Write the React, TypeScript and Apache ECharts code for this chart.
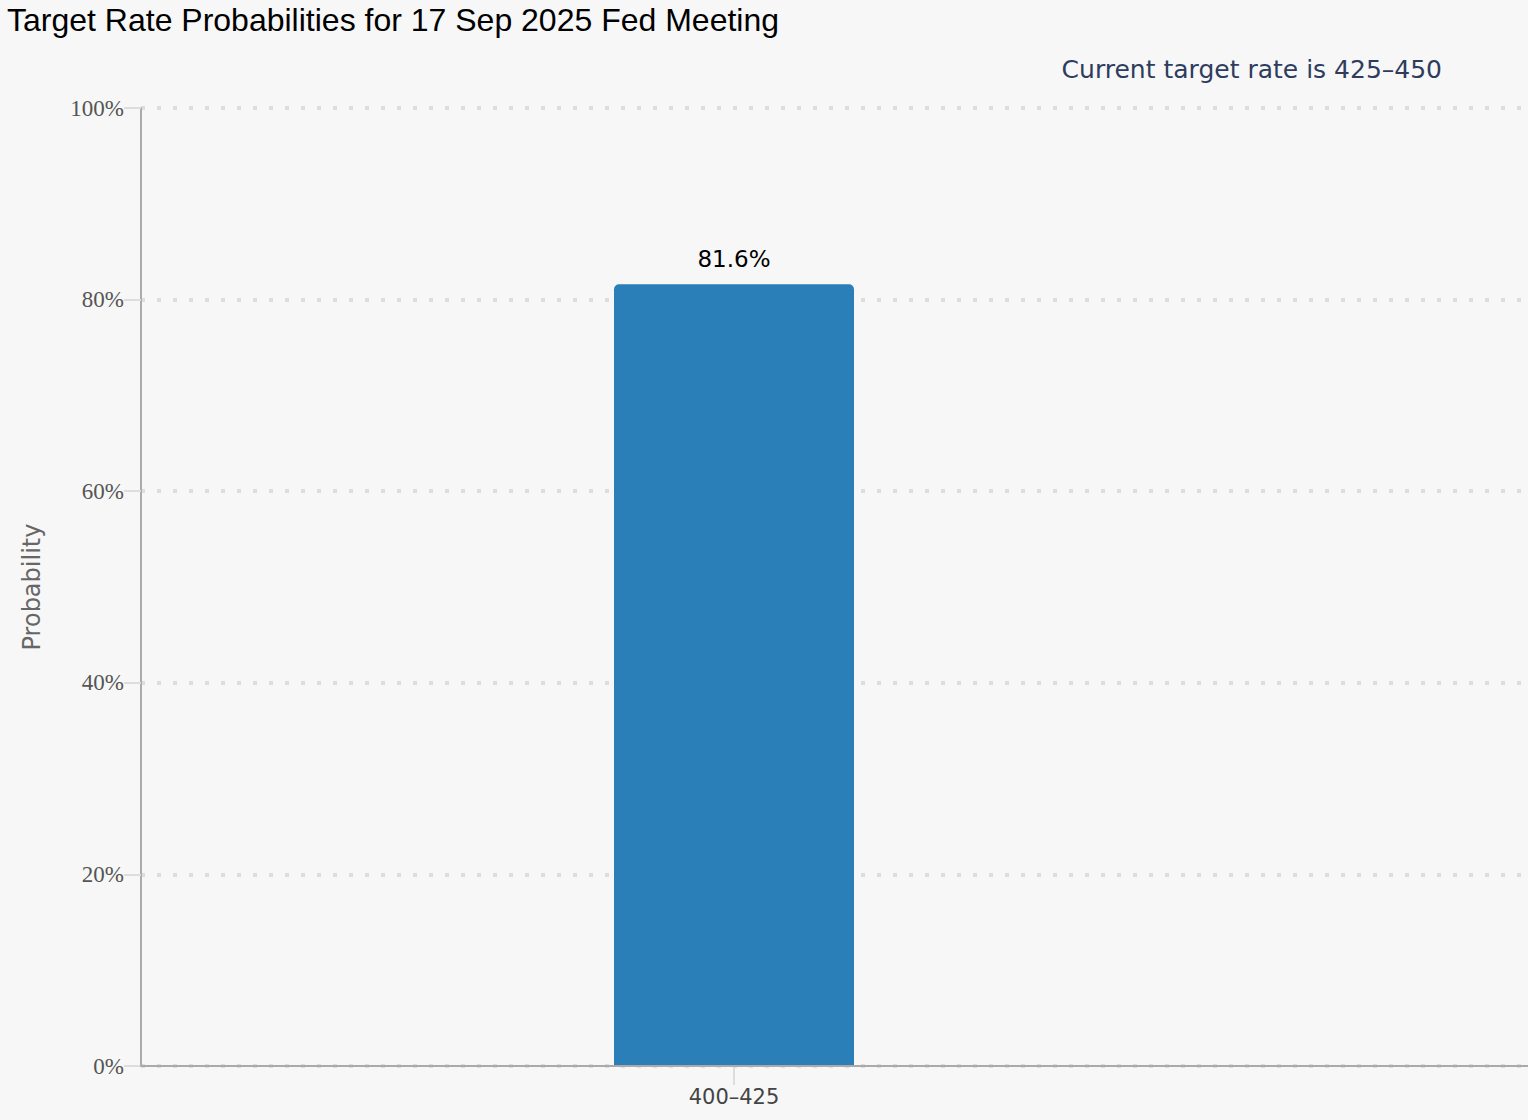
import React, { useEffect, useRef } from "react";
import * as echarts from "echarts";

const categories = ["400–425"];
const probabilities = [81.6];
const yTicks = { min: 0, max: 100, interval: 20 };
const titleText = "Target Rate Probabilities for 17 Sep 2025 Fed Meeting";
const subtitleText = "Current target rate is 425–450";

export default function App() {
  const ref = useRef<HTMLDivElement>(null);
  useEffect(() => {
    if (!ref.current) return;
    const chart = echarts.init(ref.current, undefined, { renderer: "svg" });
    chart.setOption({
      animation: false,
      backgroundColor: "#f7f7f7",
      title: [
        {
          text: titleText,
          left: 7,
          top: 4,
          padding: 0,
          textStyle: { fontFamily: "Liberation Sans", fontSize: 32, fontWeight: "normal", color: "#000" },
        },
        {
          text: subtitleText,
          right: 81,
          top: 52,
          textStyle: { fontFamily: "DejaVu Sans", fontSize: 25, fontWeight: "normal", color: "#2e3c5e" },
        },
      ],
      grid: [
        { left: 141, right: 0, top: 108, bottom: 54 },
        { left: 141, right: 201, top: 108, bottom: 54 },
      ],
      xAxis: [
        {
          gridIndex: 0,
          type: "value",
          min: 0,
          max: 1,
          z: 5,
          axisLine: { show: true, lineStyle: { color: "#aaaaaa", width: 2 } },
          axisTick: { show: false },
          axisLabel: { show: false },
          splitLine: { show: false },
        },
        {
          gridIndex: 1,
          type: "category",
          data: categories,
          axisLine: { show: false },
          axisTick: { show: true, alignWithLabel: true, length: 19, lineStyle: { color: "#dddddd", width: 2 } },
          axisLabel: { margin: 20, fontFamily: "DejaVu Sans", fontSize: 21, color: "#444" },
        },
      ],
      yAxis: [
        {
          gridIndex: 0,
          type: "value",
          min: yTicks.min,
          max: yTicks.max,
          interval: yTicks.interval,
          name: "Probability",
          nameLocation: "middle",
          nameRotate: 90,
          nameGap: 97,
          nameTextStyle: { fontFamily: "DejaVu Sans", fontSize: 24, color: "#666" },
          axisLine: { show: true, lineStyle: { color: "#aaaaaa", width: 2 } },
          axisTick: { show: true, length: 17, lineStyle: { color: "#dddddd", width: 2 } },
          axisLabel: {
            margin: 17,
            formatter: "{value}%",
            fontFamily: "Liberation Serif",
            fontSize: 23,
            color: "#555",
          },
          splitLine: {
            show: true,
            lineStyle: { color: "#dddddd", width: 4, type: [4, 12] },
          },
        },
        {
          gridIndex: 1,
          type: "value",
          min: yTicks.min,
          max: yTicks.max,
          show: false,
          splitLine: { show: false },
        },
      ],
      series: [
        {
          type: "bar",
          xAxisIndex: 1,
          yAxisIndex: 1,
          data: probabilities,
          barWidth: 240,
          itemStyle: { color: "#2a7fb8", borderRadius: [5, 5, 0, 0] },
          label: {
            show: true,
            position: "top",
            distance: 14,
            formatter: "{c}%",
            fontFamily: "DejaVu Sans",
            fontSize: 23,
            color: "#000",
          },
        },
      ],
    });
    return () => chart.dispose();
  }, []);
  return <div ref={ref} style={{ position: "fixed", left: 0, top: 0, width: 1528, height: 1120 }} />;
}
